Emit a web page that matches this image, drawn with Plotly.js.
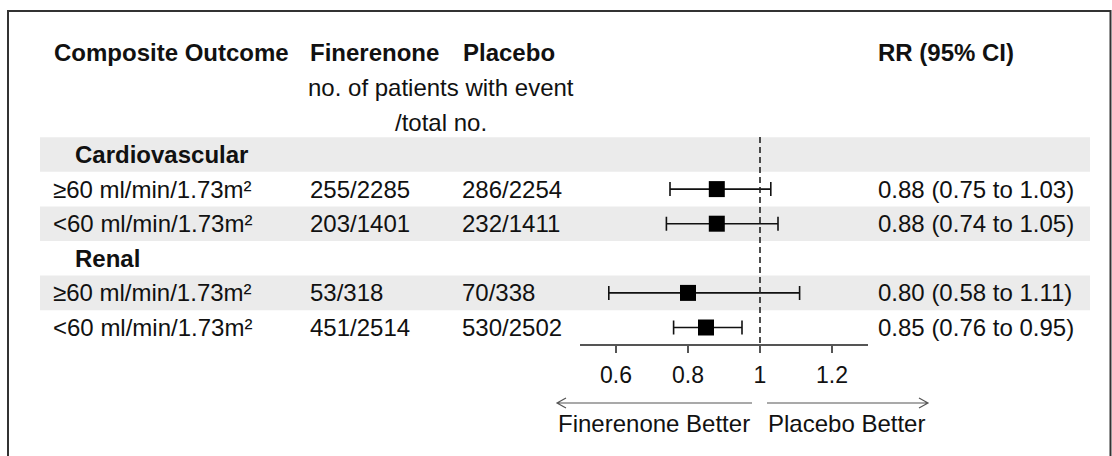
<!DOCTYPE html>
<html>
<head>
<meta charset="utf-8">
<script src="https://cdn.plot.ly/plotly-3.0.1.min.js"></script>
<style>html,body{margin:0;padding:0;background:#fff;}#chart{width:1112px;height:456px;}</style>
</head>
<body>
<div id="chart"></div>
<script>
// ---- data ----
const rowLabels = ["Cardiovascular", "≥60 ml/min/1.73m²", "<60 ml/min/1.73m²", "Renal", "≥60 ml/min/1.73m²", "<60 ml/min/1.73m²"];
const rowIsGroup = [true, false, false, true, false, false];
const finerenoneEvents = ["", "255/2285", "203/1401", "", "53/318", "451/2514"];
const placeboEvents = ["", "286/2254", "232/1411", "", "70/338", "530/2502"];
const rrEstimate = [null, 0.88, 0.88, null, 0.80, 0.85];
const rrLower = [null, 0.75, 0.74, null, 0.58, 0.76];
const rrUpper = [null, 1.03, 1.05, null, 1.11, 0.95];
const rrLabels = ["", "0.88 (0.75 to 1.03)", "0.88 (0.74 to 1.05)", "", "0.80 (0.58 to 1.11)", "0.85 (0.76 to 0.95)"];
const tickValues = [0.6, 0.8, 1, 1.2];
const tickLabels = ["0.6", "0.8", "1", "1.2"];
const headers = ["Composite Outcome", "Finerenone", "Placebo", "RR (95% CI)"];
const subHeader = ["no. of patients with event", "/total no."];
const directionLabels = ["Finerenone Better", "Placebo Better"];
const nullValue = 1;

// ---- layout helpers ----
const W = 1112, H = 456;
const FONT = "Liberation Sans, Arial, Helvetica, sans-serif";
const FS = 24;
const row0 = 154.5, pitch = 34.6;
const px = x => x / W;
const py = y => 1 - y / H;
const esc = s => s.replace(/&/g, "&amp;").replace(/</g, "&lt;").replace(/>/g, "&gt;");

const idx = [], xs = [], ep = [], em = [];
rrEstimate.forEach((v, i) => {
  if (v !== null) { idx.push(i); xs.push(v); ep.push(rrUpper[i] - v); em.push(v - rrLower[i]); }
});

const traces = [{
  type: "scatter", mode: "markers", x: xs, y: idx,
  marker: {symbol: "square", size: 16, color: "#000", line: {width: 0}},
  error_x: {type: "data", symmetric: false, array: ep, arrayminus: em, width: 7, thickness: 1.6, color: "#111"},
  hoverinfo: "skip", showlegend: false, cliponaxis: false
}];

const ann = [];
const txt = (text, x, yref, y, opts = {}) => ann.push(Object.assign({
  text: esc(text), x: px(x), xref: "paper", y: y, yref: yref,
  xanchor: "left", yanchor: "middle", showarrow: false,
  font: {family: FONT, size: FS, color: "#111"}
}, opts));

// headers
txt(headers[0], 52, "paper", py(53), {text: "<b>" + esc(headers[0]) + "</b>"});
txt(headers[1], 308, "paper", py(53), {text: "<b>" + esc(headers[1]) + "</b>"});
txt(headers[2], 461, "paper", py(53), {text: "<b>" + esc(headers[2]) + "</b>"});
txt(headers[3], 876, "paper", py(53), {text: "<b>" + esc(headers[3]) + "</b>"});
txt(subHeader[0], 441, "paper", py(88), {xanchor: "center"});
txt(subHeader[1], 441, "paper", py(122), {xanchor: "center"});

// rows
rowLabels.forEach((lab, i) => {
  if (rowIsGroup[i]) txt(lab, 73, "y", i, {text: "<b>" + esc(lab) + "</b>"});
  else txt(lab, 51, "y", i);
  if (finerenoneEvents[i]) txt(finerenoneEvents[i], 308, "y", i);
  if (placeboEvents[i]) txt(placeboEvents[i], 460, "y", i);
  if (rrLabels[i]) txt(rrLabels[i], 876, "y", i);
});

// direction labels
txt(directionLabels[0], 556, "paper", py(423));
txt(directionLabels[1], 766, "paper", py(423));

const shapes = [];
// alternating bands
rowLabels.forEach((_, i) => {
  if (i % 2 === 0) shapes.push({type: "rect", xref: "paper", yref: "y", x0: px(40), x1: px(1090), y0: i - 0.5, y1: i + 0.5,
    fillcolor: "#ebebeb", line: {width: 0}, layer: "below"});
});
// null line
shapes.push({type: "line", xref: "x", yref: "paper", x0: nullValue, x1: nullValue, y0: py(137), y1: py(344),
  line: {color: "#222", width: 1.6, dash: "6px,4px"}});
// arrows
const arrowPath = (xFrom, xTo, y) => {
  const d = xTo < xFrom ? 1 : -1;
  return `M${px(xFrom)},${py(y)} L${px(xTo)},${py(y)} M${px(xTo + 9 * d)},${py(y - 5)} L${px(xTo)},${py(y)} L${px(xTo + 9 * d)},${py(y + 5)}`;
};
shapes.push({type: "path", xref: "paper", yref: "paper", path: arrowPath(752, 557, 403), line: {color: "#555", width: 1.2}});
shapes.push({type: "path", xref: "paper", yref: "paper", path: arrowPath(767, 928, 403), line: {color: "#555", width: 1.2}});
// frame
shapes.push({type: "rect", xref: "paper", yref: "paper", x0: px(8), x1: px(1110.5), y0: py(470), y1: py(11),
  line: {color: "#333", width: 2}, fillcolor: "rgba(0,0,0,0)"});

const layout = {
  width: W, height: H,
  margin: {l: 0, r: 0, t: 0, b: 0, pad: 0},
  paper_bgcolor: "#fff", plot_bgcolor: "rgba(0,0,0,0)",
  showlegend: false,
  xaxis: {
    domain: [px(580), px(868)], range: [0.5, 1.3], anchor: "free", position: py(344),
    showline: true, linecolor: "#555", linewidth: 1.5,
    ticks: "outside", ticklen: 7, tickwidth: 1.5, tickcolor: "#555",
    ticklabelstandoff: 3,
    tickvals: tickValues, ticktext: tickLabels,
    tickfont: {family: FONT, size: 23, color: "#111"},
    showgrid: false, zeroline: false, fixedrange: true
  },
  yaxis: {
    domain: [0, 1], range: [(H - row0) / pitch, (0 - row0) / pitch],
    visible: false, showgrid: false, zeroline: false, fixedrange: true
  },
  annotations: ann,
  shapes: shapes,
  font: {family: FONT, color: "#111"}
};

Plotly.newPlot("chart", traces, layout, {staticPlot: true, displayModeBar: false});
</script>
</body>
</html>
